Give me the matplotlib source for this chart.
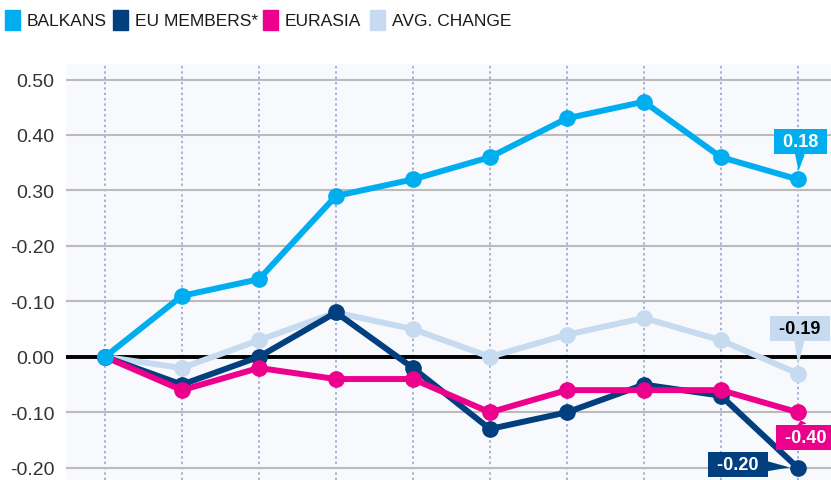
import matplotlib.pyplot as plt
from matplotlib.patches import Rectangle

# data
steps = list(range(10))
balkans = [0.00, 0.11, 0.14, 0.29, 0.32, 0.36, 0.43, 0.46, 0.36, 0.32]
eu_members = [0.00, -0.05, 0.00, 0.08, -0.02, -0.13, -0.10, -0.05, -0.07, -0.20]
eurasia = [0.00, -0.06, -0.02, -0.04, -0.04, -0.10, -0.06, -0.06, -0.06, -0.10]
avg_change = [0.00, -0.02, 0.03, 0.08, 0.05, 0.00, 0.04, 0.07, 0.03, -0.03]

y_ticks = [0.5, 0.4, 0.3, 0.2, 0.1, 0.0, -0.1, -0.2]
y_tick_labels = ["0.50", "0.40", "0.30", "-0.20", "-0.10", "0.00", "-0.10", "-0.20"]

names = ["BALKANS", "EU MEMBERS*", "EURASIA", "AVG. CHANGE"]
end_labels = ["0.18", "-0.20", "-0.40", "-0.19"]

c_balkans = "#00AEEF"
c_eu = "#023F7E"
c_eurasia = "#EC008C"
c_avg = "#C6DAF0"

plt.rcParams['font.family'] = ['Liberation Sans', 'DejaVu Sans']

fig = plt.figure(figsize=(8.31, 4.81), dpi=100)
ax = fig.add_axes([66 / 831, 0, 1 - 66 / 831, 1 - 65 / 481])
ax.set_facecolor("#F7F9FD")

ax.set_xlim(-0.506, 9.43)
ax.set_ylim(-0.222, 0.528)

for x in steps:
    ax.axvline(x, color="#8E9CC8", lw=1.1, ls=(0, (1.5, 2)), zorder=1)
for y in y_ticks:
    if y != 0:
        ax.axhline(y, color="#BBBBBB", lw=1.5, zorder=1)
ax.axhline(0, color="black", lw=2.8, zorder=2)

series = [(avg_change, c_avg, 3), (eu_members, c_eu, 4), (eurasia, c_eurasia, 5), (balkans, c_balkans, 6)]
for vals, col, z in series:
    ax.plot(steps, vals, color=col, lw=4.3, marker="o", ms=11, zorder=z,
            solid_joinstyle="round", solid_capstyle="round")

ax.set_yticks(y_ticks)
ax.set_yticklabels(y_tick_labels, fontsize=14, color="#333333")
ax.tick_params(axis="y", length=0, pad=8.5)
ax.set_xticks([])
for s in ax.spines.values():
    s.set_visible(False)

# end-of-line callouts
callouts = [
    (balkans[-1], end_labels[0], c_balkans, "white", (3, 38)),
    (avg_change[-1], end_labels[3], c_avg, "black", (2, 45)),
    (eurasia[-1], end_labels[2], c_eurasia, "white", (8, -25)),
    (eu_members[-1], end_labels[1], c_eu, "white", (-60, 3)),
]
for yv, txt, col, tcol, off in callouts:
    ax.annotate(" " + txt + " ", xy=(steps[-1], yv), xytext=off, textcoords="offset pixels",
                ha="center", va="center", fontsize=13, fontweight="bold",
                color=tcol, zorder=10,
                bbox=dict(boxstyle="square,pad=0.22", fc=col, ec="none"),
                arrowprops=dict(arrowstyle="wedge,tail_width=0.55", fc=col, ec="none",
                                shrinkA=0, shrinkB=6),
                annotation_clip=False)

# legend along the top
leg_x = [5, 113, 263, 370]
for lx, name, col in zip(leg_x, names, [c_balkans, c_eu, c_eurasia, c_avg]):
    fig.patches.append(Rectangle((lx / 831, 1 - 31 / 481), 15 / 831, 20 / 481,
                                 transform=fig.transFigure, color=col))
    fig.text((lx + 22) / 831, 1 - 21 / 481, name, fontsize=12.5,
             color="#1A1A1A", va="center", ha="left")

fig.savefig("out.png", dpi=100)
